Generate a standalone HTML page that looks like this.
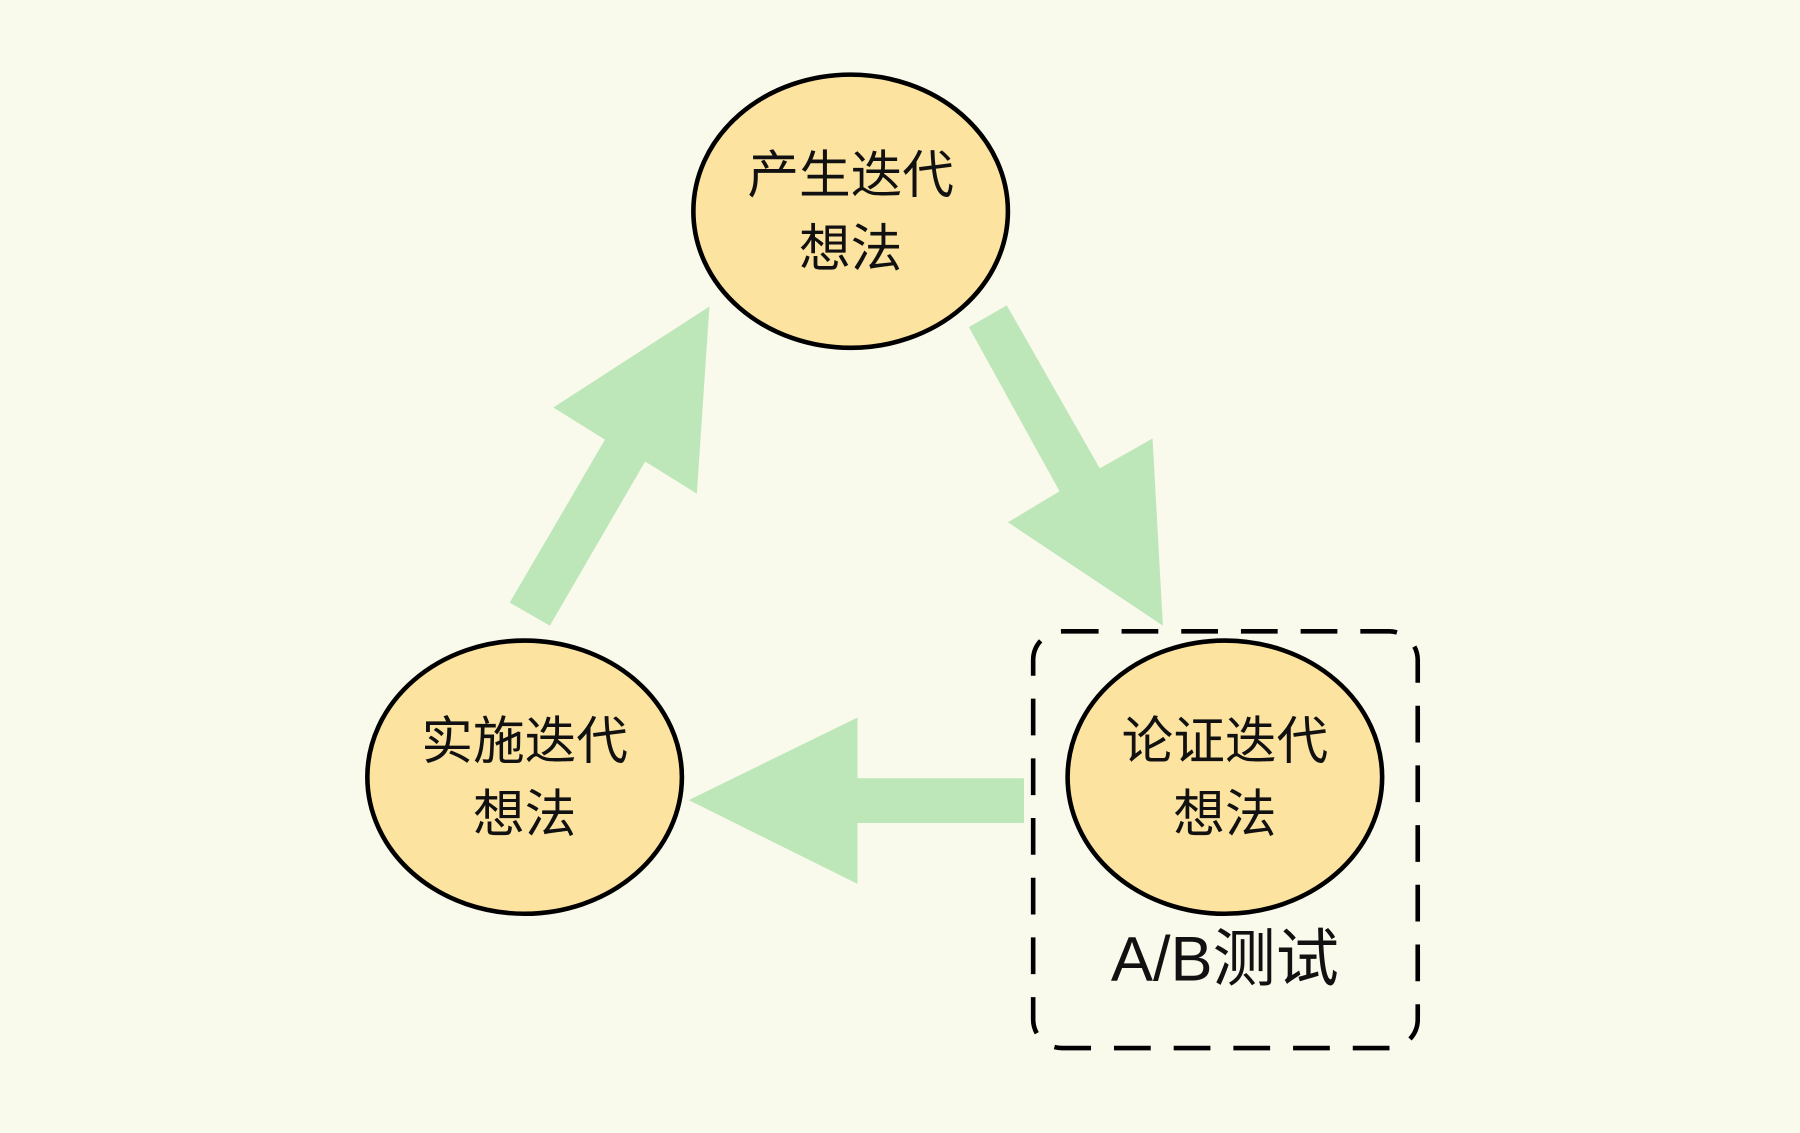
<!DOCTYPE html>
<html><head><meta charset="utf-8"><style>
html,body{margin:0;padding:0;background:#f9f9ec;}
svg{display:block;}
text{font-family:"Liberation Sans","Noto Sans CJK SC",sans-serif;fill:#111;}
</style></head><body>
<svg width="1800" height="1133" viewBox="0 0 1568 987" preserveAspectRatio="none" xmlns="http://www.w3.org/2000/svg">
<rect width="1568" height="987" fill="#f9f9ec"/>
<g fill="#bde7b9">
<polygon points="444,525 527,383 482,355 618,267 607,430 562,402 479,545"/>
<polygon points="844,285 877,266 958,408 1004,382 1013,545 878,455 923,428"/>
<polygon points="892,678 747,678 747,625 600,697 747,770 747,717 892,717"/>
</g>
<rect x="900" y="550" width="335" height="363" rx="25" ry="25" fill="none" stroke="#000" stroke-width="4" stroke-dasharray="32,20"/>
<g fill="#fde3a0" stroke="#000" stroke-width="4">
<ellipse cx="741" cy="184" rx="137" ry="119"/>
<ellipse cx="457" cy="677" rx="137" ry="119"/>
<ellipse cx="1067" cy="677" rx="137" ry="119"/>
</g>
<g font-size="45" text-anchor="middle">
<text x="741" y="168">产生迭代</text>
<text x="741" y="232">想法</text>
<text x="457" y="661">实施迭代</text>
<text x="457" y="725">想法</text>
<text x="1067" y="661">论证迭代</text>
<text x="1067" y="725">想法</text>
<text x="1067" y="854" font-size="55">A/B测试</text>
</g>
</svg>
</body></html>
